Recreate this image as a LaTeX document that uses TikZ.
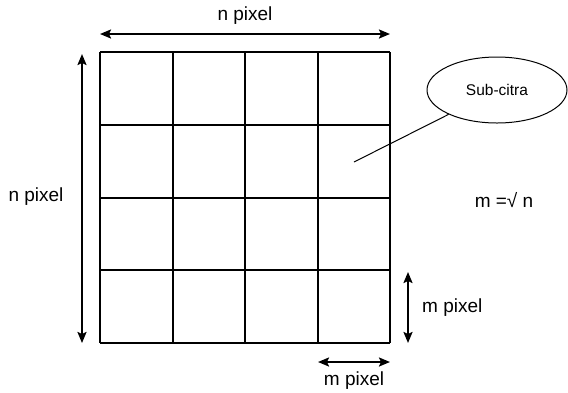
\documentclass[tikz,border=0pt]{standalone}
\usepackage{fontspec}
\setmainfont{Liberation Sans}
\usetikzlibrary{arrows.meta,shapes.geometric}

\begin{document}
\begin{tikzpicture}[x=1pt,y=-1pt,
  dimarrow/.style={{Stealth[length=11pt,width=9pt,inset=2pt]}-{Stealth[length=11pt,width=9pt,inset=2pt]}, line width=2pt},
  lbl/.style={font=\fontsize{19}{22}\selectfont, inner sep=0pt}]
\useasboundingbox (0,0) rectangle (568,392);

% Image split into 4 x 4 sub-images
\foreach \x in {100,173,245,318,390}
  \draw[line width=2pt] (\x,52) -- (\x,343);
\foreach \y in {52,125,198,270,343}
  \draw[line width=2pt] (100,\y) -- (390,\y);

% Width of the whole image
\coordinate (topL) at (100,34);
\coordinate (topR) at (390,34);
\draw[dimarrow] (topL) -- (topR);
\node[lbl] (ntop) at (245,16) {n pixel};

% Height of the whole image
\coordinate (leftT) at (82,54);
\coordinate (leftB) at (82,343);
\draw[dimarrow] (leftT) -- (leftB);
\node[lbl] (nleft) at (36,197) {n pixel};

% Size of one sub-image
\coordinate (subT) at (408,272);
\coordinate (subB) at (408,343);
\draw[dimarrow] (subT) -- (subB);
\node[lbl, anchor=west] (mright) at (422,308) {m pixel};

\coordinate (subL) at (318,362);
\coordinate (subR) at (390,362);
\draw[dimarrow] (subL) -- (subR);
\node[lbl] (mbottom) at (354,381) {m pixel};

% Callout
\node[ellipse, draw, line width=1pt, minimum width=140pt, minimum height=66pt,
      font=\fontsize{15.5}{18}\selectfont] (sub) at (497,90) {Sub-citra};
\coordinate (cell) at (354,162);
\draw[line width=1pt] (cell) -- (sub);

\node[lbl] (rel) at (504,200) {m =√ n};
\end{tikzpicture}
\end{document}
